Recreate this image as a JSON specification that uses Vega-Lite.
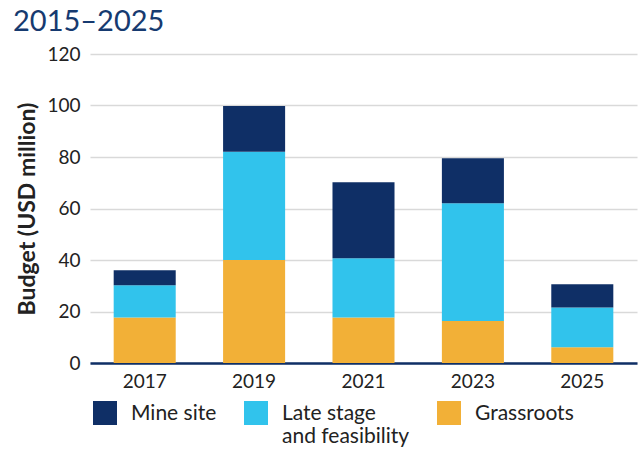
{
  "$schema": "https://vega.github.io/schema/vega-lite/v6.json",
  "autosize": {"type": "none"},
  "padding": {"left": 90, "top": 54, "right": 4, "bottom": 87},
  "width": 547,
  "height": 309,
  "background": "white",
  "title": {
    "text": "2015–2025",
    "anchor": "start",
    "frame": "group",
    "dx": -77,
    "offset": 8,
    "font": "Lato",
    "fontSize": 29,
    "fontWeight": "normal",
    "color": "#163a70"
  },
  "config": {
    "view": {"stroke": null},
    "font": "Lato",
    "text": {"font": "Lato"}
  },
  "data": {
    "values": [
      {"year": "2017", "category": "Grassroots", "value": 17.7},
      {"year": "2017", "category": "Late stage and feasibility", "value": 12.5},
      {"year": "2017", "category": "Mine site", "value": 5.8},
      {"year": "2019", "category": "Grassroots", "value": 40.0},
      {"year": "2019", "category": "Late stage and feasibility", "value": 42.0},
      {"year": "2019", "category": "Mine site", "value": 17.8},
      {"year": "2021", "category": "Grassroots", "value": 17.7},
      {"year": "2021", "category": "Late stage and feasibility", "value": 23.0},
      {"year": "2021", "category": "Mine site", "value": 29.5},
      {"year": "2023", "category": "Grassroots", "value": 16.3},
      {"year": "2023", "category": "Late stage and feasibility", "value": 45.7},
      {"year": "2023", "category": "Mine site", "value": 17.5},
      {"year": "2025", "category": "Grassroots", "value": 6.1},
      {"year": "2025", "category": "Late stage and feasibility", "value": 15.5},
      {"year": "2025", "category": "Mine site", "value": 9.0}
    ]
  },
  "mark": {"type": "bar"},
  "encoding": {
    "x": {
      "field": "year",
      "type": "ordinal",
      "scale": {"paddingInner": 0.433, "paddingOuter": 0.2165},
      "axis": {
        "title": null,
        "labelAngle": 0,
        "labelFontSize": 19,
        "labelColor": "#222222",
        "labelPadding": 9,
        "ticks": false,
        "domainColor": "#0f2f66",
        "domainWidth": 2.5
      }
    },
    "y": {
      "field": "value",
      "type": "quantitative",
      "stack": "zero",
      "scale": {"domain": [0, 120]},
      "axis": {
        "title": "Budget (USD million)",
        "titleFontSize": 23,
        "titleFontWeight": "bold",
        "titleColor": "#222222",
        "titlePadding": 7,
        "values": [0, 20, 40, 60, 80, 100, 120],
        "labelFontSize": 19,
        "labelColor": "#222222",
        "labelPadding": 10,
        "ticks": false,
        "domain": false,
        "gridColor": "#d9d9d9",
        "gridWidth": 1.5
      }
    },
    "color": {
      "field": "category",
      "type": "nominal",
      "scale": {
        "domain": ["Mine site", "Late stage and feasibility", "Grassroots"],
        "range": ["#0f2f66", "#31c3ec", "#f2b037"]
      },
      "legend": {
        "title": null,
        "orient": "none",
        "legendX": 3,
        "legendY": 347,
        "direction": "horizontal",
        "symbolType": "square",
        "symbolSize": 576,
        "symbolStrokeWidth": 0,
        "labelFontSize": 21,
        "labelColor": "#222222",
        "labelOffset": 14,
        "labelLimit": 300,
        "labelBaseline": "alphabetic",
        "columnPadding": 27,
        "labelExpr": "datum.label == 'Late stage and feasibility' ? ['Late stage', 'and feasibility'] : [datum.label, '']",
        "encode": {"labels": {"update": {"dy": {"value": 7}}}}
      }
    },
    "order": {"field": "category", "sort": "ascending"}
  }
}
